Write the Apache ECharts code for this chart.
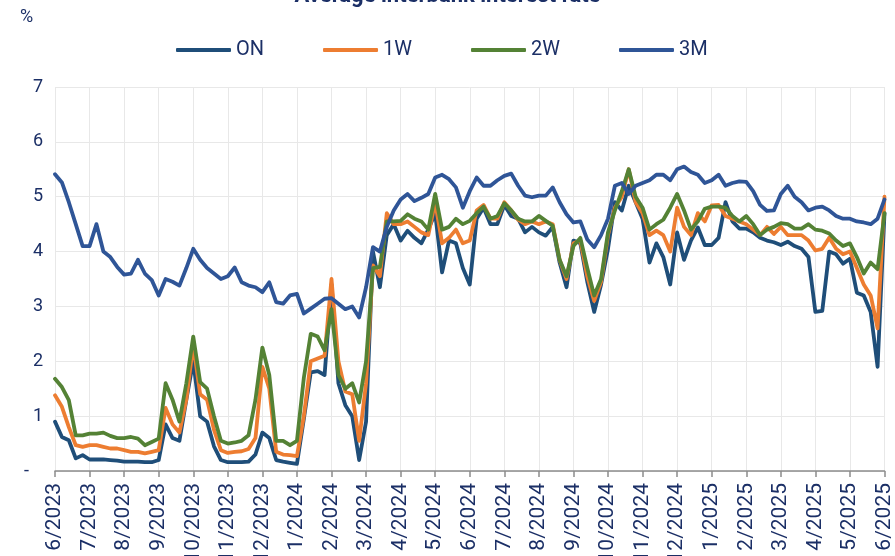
<!DOCTYPE html>
<html>
<head>
<meta charset="utf-8">
<script src="https://cdn.jsdelivr.net/npm/echarts@6/dist/echarts.min.js"></script>
<style>
html,body{margin:0;padding:0;overflow:hidden;width:895px;height:556px;background:#fff}
#c{position:absolute;left:0;top:-30px;width:895px;height:640px}
</style>
</head>
<body>
<div id="c"></div>
<script>
// Month tick labels (one every 5 samples)
const monthLabels = ['6/2023','7/2023','8/2023','9/2023','10/2023','11/2023','12/2023',
  '1/2024','2/2024','3/2024','4/2024','5/2024','6/2024','7/2024','8/2024','9/2024','10/2024','11/2024','12/2024',
  '1/2025','2/2025','3/2025','4/2025','5/2025','6/2025'];
const pointsPerMonth = 5;
const seriesNames = ['ON','1W','2W','3M'];

const rateON = [0.9,0.62,0.56,0.23,0.29,0.21,0.21,0.21,0.2,0.19,
  0.17,0.17,0.17,0.16,0.16,0.2,0.85,0.6,0.55,1.3,
  2.0,1.0,0.9,0.45,0.2,0.16,0.16,0.16,0.17,0.3,
  0.7,0.6,0.2,0.17,0.15,0.13,0.95,1.8,1.82,1.75,
  3.4,1.6,1.2,1.0,0.2,0.9,4.0,3.35,4.3,4.5,
  4.2,4.38,4.25,4.15,4.4,4.7,3.62,4.2,4.15,3.7,
  3.4,4.6,4.8,4.5,4.5,4.85,4.65,4.6,4.35,4.45,
  4.35,4.29,4.45,3.8,3.35,4.2,4.15,3.45,2.9,3.4,
  4.05,4.9,4.75,5.2,4.9,4.6,3.8,4.15,3.9,3.4,
  4.35,3.85,4.2,4.44,4.12,4.12,4.25,4.9,4.55,4.42,
  4.42,4.35,4.25,4.2,4.17,4.12,4.18,4.1,4.05,3.9,
  2.9,2.92,4.0,3.95,3.78,3.87,3.25,3.2,2.9,1.9,
  4.7];
const rate1W = [1.38,1.17,0.8,0.47,0.44,0.47,0.47,0.44,0.41,0.41,
  0.38,0.35,0.35,0.32,0.35,0.38,1.15,0.85,0.7,1.3,
  2.3,1.4,1.3,0.75,0.38,0.33,0.35,0.36,0.4,0.6,
  1.9,1.5,0.35,0.3,0.29,0.27,1.0,2.0,2.05,2.1,
  3.5,2.0,1.45,1.4,0.55,1.6,3.75,3.55,4.7,4.5,
  4.5,4.55,4.45,4.35,4.3,4.9,4.15,4.25,4.4,4.15,
  4.2,4.75,4.85,4.6,4.6,4.9,4.75,4.58,4.5,4.55,
  4.5,4.55,4.5,3.85,3.5,4.15,4.2,3.55,3.1,3.45,
  4.3,4.8,5.0,5.5,4.9,4.7,4.3,4.38,4.3,4.0,
  4.8,4.45,4.3,4.7,4.55,4.84,4.85,4.65,4.6,4.55,
  4.5,4.4,4.3,4.45,4.32,4.45,4.3,4.3,4.3,4.2,
  4.02,4.05,4.25,4.05,3.95,4.0,3.7,3.4,3.2,2.6,
  5.0];
const rate2W = [1.68,1.53,1.29,0.65,0.65,0.68,0.68,0.7,0.64,0.6,
  0.6,0.62,0.59,0.47,0.53,0.59,1.6,1.3,0.9,1.6,
  2.45,1.62,1.5,1.0,0.55,0.5,0.52,0.55,0.65,1.3,
  2.25,1.75,0.55,0.55,0.47,0.55,1.7,2.5,2.45,2.2,
  2.95,1.75,1.5,1.6,1.25,2.0,3.7,3.72,4.55,4.55,
  4.56,4.68,4.6,4.55,4.4,5.05,4.4,4.45,4.6,4.5,
  4.56,4.7,4.82,4.6,4.65,4.88,4.75,4.6,4.55,4.55,
  4.65,4.56,4.47,3.85,3.55,4.1,4.25,3.7,3.2,3.5,
  4.35,4.75,5.1,5.5,5.0,4.8,4.4,4.5,4.58,4.8,
  5.05,4.75,4.4,4.55,4.78,4.82,4.82,4.8,4.65,4.55,
  4.65,4.5,4.3,4.4,4.45,4.52,4.5,4.42,4.42,4.5,
  4.4,4.38,4.33,4.2,4.1,4.15,3.9,3.6,3.8,3.68,
  4.7];
const rate3M = [5.41,5.26,4.9,4.5,4.1,4.1,4.5,4.0,3.9,3.72,
  3.58,3.6,3.85,3.6,3.48,3.2,3.5,3.45,3.38,3.7,
  4.05,3.85,3.7,3.6,3.5,3.55,3.71,3.44,3.38,3.35,
  3.26,3.44,3.08,3.05,3.2,3.23,2.87,2.96,3.05,3.14,
  3.15,3.05,2.95,3.0,2.8,3.35,4.08,4.0,4.45,4.75,
  4.95,5.05,4.92,4.98,5.05,5.35,5.4,5.32,5.17,4.8,
  5.1,5.35,5.2,5.2,5.3,5.38,5.42,5.2,5.02,4.99,
  5.02,5.02,5.17,4.9,4.68,4.53,4.55,4.22,4.08,4.3,
  4.6,5.2,5.25,5.05,5.2,5.25,5.3,5.4,5.4,5.3,
  5.5,5.55,5.45,5.4,5.25,5.3,5.4,5.2,5.25,5.28,
  5.27,5.1,4.85,4.74,4.75,5.05,5.2,5.0,4.9,4.75,
  4.8,4.82,4.75,4.65,4.6,4.6,4.55,4.53,4.5,4.6,
  4.95];

const seriesData = [rateON, rate1W, rate2W, rate3M];
const colors = ['#1f4e79','#ed7d31','#548235','#2f5597'];
const textColor = '#1b2f66';
const categories = rateON.map((_, i) => String(i));
const isMonthStart = (i) => i % pointsPerMonth === 0;

const chart = echarts.init(document.getElementById('c'), null, {renderer: 'canvas'});
chart.setOption({
  animation: false,
  backgroundColor: '#ffffff',
  color: colors,
  title: {
    text: 'Average interbank interest rate',
    left: 'center', top: 10,
    textStyle: {fontFamily: 'Roboto', fontSize: 22, fontWeight: 'bold', color: textColor}
  },
  graphic: [{
    type: 'text', left: 20, top: 38,
    style: {text: '%', font: '18px Roboto', fill: textColor}
  }],
  legend: {
    data: seriesNames,
    top: 65, left: 171,
    icon: 'roundRect',
    itemWidth: 55, itemHeight: 4, itemGap: 59,
    textStyle: {fontFamily: 'Roboto', fontSize: 20, color: textColor}
  },
  grid: {left: 55, right: 10, top: 117, bottom: 139},
  xAxis: {
    type: 'category',
    data: categories,
    boundaryGap: false,
    axisLine: {lineStyle: {color: '#8c8c8c', width: 1.5}},
    axisTick: {interval: (i) => isMonthStart(i), length: 6, lineStyle: {color: '#8c8c8c', width: 1.5}},
    axisLabel: {
      interval: (i) => isMonthStart(i),
      rotate: 90, margin: 12,
      formatter: (v, i) => monthLabels[i / pointsPerMonth] || '',
      fontFamily: 'Roboto', fontSize: 21, color: textColor
    },
    splitLine: {show: true, interval: (i) => isMonthStart(i), lineStyle: {color: '#e8e8e8', width: 1}}
  },
  yAxis: {
    type: 'value', min: 0, max: 7, interval: 1,
    axisLine: {show: false}, axisTick: {show: false},
    splitLine: {lineStyle: {color: '#e8e8e8', width: 1}},
    axisLabel: {
      formatter: (v) => v === 0 ? '{dash|-}' : String(v),
      rich: {dash: {fontFamily: 'Roboto', fontSize: 18, color: textColor, padding: [0, 14, 0, 0]}},
      fontFamily: 'Roboto', fontSize: 18, color: textColor, margin: 12
    }
  },
  series: seriesNames.map((name, k) => ({
    name: name,
    type: 'line',
    data: seriesData[k],
    symbol: 'none',
    smooth: false,
    lineStyle: {width: 3.8, color: colors[k], join: 'round', cap: 'round'},
    itemStyle: {color: colors[k]}
  }))
});
</script>
</body>
</html>
